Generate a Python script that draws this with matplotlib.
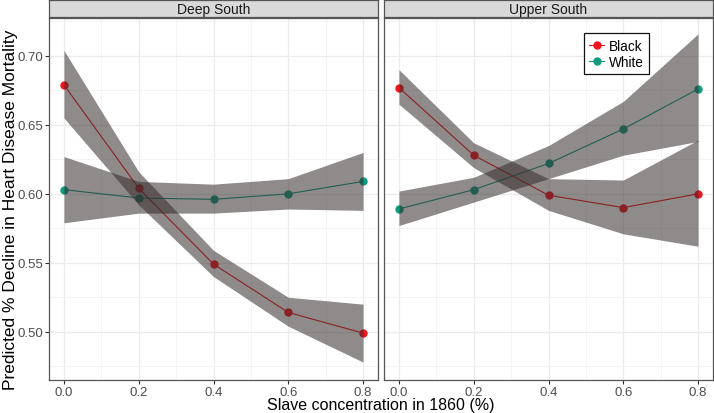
import matplotlib
matplotlib.use('Agg')
import matplotlib.pyplot as plt
from matplotlib.ticker import MultipleLocator
from matplotlib.lines import Line2D

plt.rcParams['font.family'] = ['Liberation Sans', 'DejaVu Sans']

# ── data ─────────────────────────────────────────────────────────────────────
slave_conc = [0.0, 0.2, 0.4, 0.6, 0.8]
panels = ['Deep South', 'Upper South']

ds_black     = [0.679, 0.604, 0.549, 0.514, 0.499]
ds_black_lo  = [0.655, 0.592, 0.540, 0.504, 0.478]
ds_black_hi  = [0.704, 0.616, 0.559, 0.525, 0.520]
ds_white     = [0.603, 0.597, 0.596, 0.600, 0.609]
ds_white_lo  = [0.579, 0.586, 0.586, 0.589, 0.588]
ds_white_hi  = [0.627, 0.609, 0.607, 0.611, 0.630]

us_black     = [0.677, 0.628, 0.599, 0.590, 0.600]
us_black_lo  = [0.665, 0.619, 0.588, 0.571, 0.562]
us_black_hi  = [0.690, 0.637, 0.611, 0.610, 0.639]
us_white     = [0.589, 0.603, 0.622, 0.647, 0.676]
us_white_lo  = [0.577, 0.594, 0.611, 0.628, 0.638]
us_white_hi  = [0.602, 0.612, 0.635, 0.667, 0.716]

series = {
    'Deep South':  [(ds_black, ds_black_lo, ds_black_hi), (ds_white, ds_white_lo, ds_white_hi)],
    'Upper South': [(us_black, us_black_lo, us_black_hi), (us_white, us_white_lo, us_white_hi)],
}
race_labels = ['Black', 'White']
race_colors = ['#f0141c', '#0f9a7f']

# ── layout ───────────────────────────────────────────────────────────────────
W, H = 714, 414
fig = plt.figure(figsize=(W / 100, H / 100), dpi=100)
fig.patch.set_facecolor('white')

panel_px = [(49, 378), (384, 713)]
top_px, bot_px, strip_top = 19, 381, 1

for k, (name, (x0, x1)) in enumerate(zip(panels, panel_px)):
    ax = fig.add_axes([x0 / W, (H - bot_px) / H, (x1 - x0) / W, (bot_px - top_px) / H])
    ax.set_xlim(-0.04, 0.84)
    ax.set_ylim(0.465, 0.7275)
    ax.xaxis.set_major_locator(MultipleLocator(0.2))
    ax.xaxis.set_minor_locator(MultipleLocator(0.1))
    ax.yaxis.set_major_locator(MultipleLocator(0.05))
    ax.yaxis.set_minor_locator(MultipleLocator(0.025))
    ax.grid(which='major', color='#ebebeb', linewidth=0.9)
    ax.grid(which='minor', color='#f3f3f3', linewidth=0.6)
    ax.set_axisbelow(True)
    for sp in ax.spines.values():
        sp.set_color('#555555')
        sp.set_linewidth(0.9)
    ax.tick_params(which='minor', length=0)
    ax.tick_params(which='major', length=3, color='#333333', width=0.8,
                   labelsize=9.5, labelcolor='#4d4d4d', pad=1.5)
    ax.set_xticklabels([f'{v:.1f}' for v in ax.get_xticks()])
    if k == 0:
        ax.yaxis.set_major_formatter(plt.FuncFormatter(lambda v, p: f'{v:.2f}'))
    else:
        ax.tick_params(axis='y', which='both', left=False, labelleft=False)

    for (mean, lo, hi), col in zip(series[name], race_colors):
        ax.plot(slave_conc, mean, color=col, linewidth=0.8, marker='o',
                markersize=5, zorder=2)
    for (mean, lo, hi), col in zip(series[name], race_colors):
        ax.fill_between(slave_conc, lo, hi, color='#352c2c', alpha=0.55,
                        linewidth=0, zorder=3)

    if k == 1:
        handles = [Line2D([], [], color=c, marker='o', markersize=5, linewidth=0.8)
                   for c in race_colors]
        leg = ax.legend(handles, race_labels, loc='upper left',
                        bbox_to_anchor=(0.608, 0.958), fontsize=9.8,
                        handlelength=1.1, handletextpad=0.3, borderpad=0.4,
                        labelspacing=0.15, borderaxespad=0,
                        fancybox=False, framealpha=1)
        leg.get_frame().set_edgecolor('#111111')
        leg.get_frame().set_linewidth(0.9)

    # facet strip
    sax = fig.add_axes([x0 / W, (H - top_px + 1) / H, (x1 - x0) / W, (top_px - strip_top - 1) / H])
    sax.set_facecolor('#d9d9d9')
    sax.set_xticks([])
    sax.set_yticks([])
    for sp in sax.spines.values():
        sp.set_color('#555555')
        sp.set_linewidth(0.9)
    sax.text(0.5, 0.45, name, ha='center', va='center', fontsize=10,
             color='#1a1a1a', transform=sax.transAxes)

fig.text((49 + 713) / 2 / W, (H - 406) / H, 'Slave concentration in 1860 (%)',
         ha='center', va='center', fontsize=11.5, color='black')
fig.text(0.004, (H - 210) / H,
         'Predicted % Decline in Heart Disease Mortality',
         ha='left', va='center', rotation=90, fontsize=12.5, color='black')

fig.savefig('out.png', dpi=100, facecolor='white')
